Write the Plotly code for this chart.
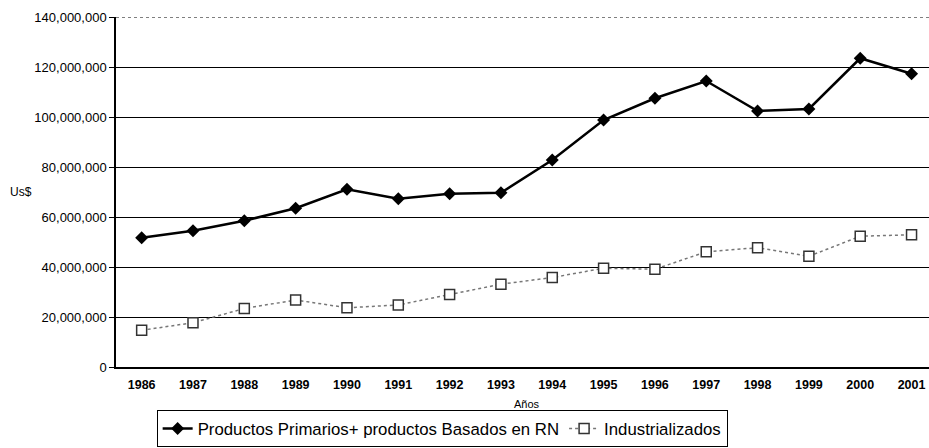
import plotly.graph_objects as go

years = ["1986", "1987", "1988", "1989", "1990", "1991", "1992", "1993",
         "1994", "1995", "1996", "1997", "1998", "1999", "2000", "2001"]
primarios = [51.7e6, 54.5e6, 58.5e6, 63.5e6, 71.1e6, 67.3e6, 69.3e6, 69.7e6,
             82.8e6, 98.8e6, 107.5e6, 114.4e6, 102.4e6, 103.2e6, 123.5e6, 117.3e6]
industrializados = [14.7e6, 17.7e6, 23.4e6, 26.8e6, 23.7e6, 24.8e6, 29.0e6, 33.1e6,
                    35.8e6, 39.5e6, 39.1e6, 46.1e6, 47.7e6, 44.3e6, 52.3e6, 52.9e6]
y_tick_vals = [0, 20e6, 40e6, 60e6, 80e6, 100e6, 120e6, 140e6]

series_names = ["Productos Primarios+ productos Basados en RN", "Industrializados"]
y_title = "Us$"
x_title = "Años"

FONT = "Liberation Sans, Arial, sans-serif"

fig = go.Figure()
fig.add_trace(go.Scatter(
    x=years, y=primarios, name=series_names[0], mode="lines+markers",
    line=dict(color="#000000", width=2.5),
    marker=dict(symbol="diamond", size=10, color="#000000"),
))
fig.add_trace(go.Scatter(
    x=years, y=industrializados, name=series_names[1], mode="lines+markers",
    line=dict(color="#777777", width=1.5, dash="dot"),
    marker=dict(symbol="square", size=10, color="#ffffff",
                line=dict(color="#333333", width=1.5)),
))

top = y_tick_vals[-1]
fig.add_shape(type="line", xref="paper", x0=0, x1=1, yref="y", y0=top, y1=top,
              line=dict(color="#ffffff", width=2), layer="between")
fig.add_shape(type="line", xref="paper", x0=0, x1=1, yref="y", y0=top, y1=top,
              line=dict(color="#000000", width=1, dash="dot"), layer="between")

fig.add_annotation(text=y_title, xref="paper", yref="paper", x=-0.133, y=0.5,
                   xanchor="left", yanchor="middle",
                   showarrow=False, font=dict(family=FONT, size=12, color="#000"))
fig.add_annotation(text=x_title, xref="paper", yref="paper", x=0.506, y=-0.106,
                   xanchor="center", yanchor="middle",
                   showarrow=False, font=dict(family=FONT, size=11, color="#000"))

fig.update_layout(
    width=929, height=448,
    margin=dict(l=116, r=0, t=17, b=81, autoexpand=False),
    paper_bgcolor="#ffffff", plot_bgcolor="#ffffff",
    font=dict(family=FONT, color="#000000"),
    showlegend=True,
    legend=dict(orientation="h", x=0.05, xanchor="left", y=-0.123, yanchor="top",
                bordercolor="#000000", borderwidth=1, bgcolor="#ffffff",
                font=dict(family=FONT, size=16.8, color="#000"),
                itemwidth=30, tracegroupgap=0),
    xaxis=dict(type="category", range=[-0.5, 15.34], showgrid=False, automargin=False,
               showline=True, linecolor="#000000", linewidth=1.5,
               ticks="", ticklabelstandoff=5,
               tickfont=dict(family=FONT, size=12.5, color="#000", weight="bold")),
    yaxis=dict(range=[0, top], tickvals=y_tick_vals, tickformat=",d", automargin=False,
               showgrid=True, gridcolor="#000000", gridwidth=1,
               zeroline=False, showline=True, linecolor="#000000", linewidth=1.5,
               ticks="outside", ticklen=5, tickcolor="#000000",
               tickfont=dict(family=FONT, size=13, color="#000")),
)

fig.write_html("out.html", config={"displayModeBar": False},
               post_script="document.body.style.margin='0';document.body.style.padding='0';")
